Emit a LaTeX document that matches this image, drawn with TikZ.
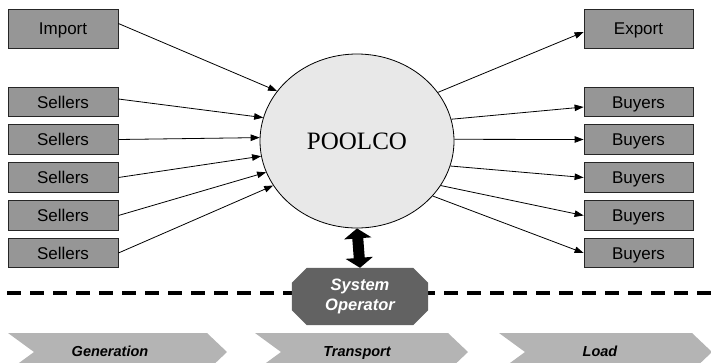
\documentclass[tikz,border=0pt]{standalone}
\usepackage{fontspec}
\setmainfont{Liberation Sans}
\newfontfamily\poolfont{Liberation Serif}
\usetikzlibrary{arrows.meta,shapes.geometric}

\definecolor{boxgray}{HTML}{969696}
\definecolor{poolgray}{HTML}{E8E8E8}
\definecolor{opgray}{HTML}{626262}
\definecolor{stagegray}{HTML}{B4B4B4}

\pgfdeclarelayer{background}
\pgfsetlayers{background,main}

\begin{document}
\begin{tikzpicture}[x=1pt,y=-1pt,
  party/.style={draw=black!85, line width=0.8pt, fill=boxgray, minimum width=110pt,
    minimum height=29.5pt, inner sep=0pt, text height=12.2pt, text depth=0pt,
    font=\fontsize{17}{19}\selectfont},
  tallparty/.style={party, minimum height=39pt},
  flow/.style={draw=black, line width=0.8pt, -{Triangle[length=9pt,width=6.5pt]}},
  stage/.style={fill=stagegray},
  stagetext/.style={inner sep=0pt, anchor=base, font=\bfseries\itshape\fontsize{14.5}{16}\selectfont},
  dividerline/.style={line width=4pt, dash pattern=on 14pt off 9pt},
  exchange/.style={line width=11pt,
    {Triangle[length=10pt,width=27pt]}-{Triangle[length=10pt,width=27pt]}}
]
\useasboundingbox (0,0) rectangle (711,362);
\clip (0,0) rectangle (711,362);

% market stages along the bottom edge
\fill[stage] (8,333) -- (207,333) -- (227,352) -- (207,371) -- (8,371) -- (34,352) -- cycle;
\fill[stage] (255,333) -- (448,333) -- (468,352) -- (448,371) -- (255,371) -- (281,352) -- cycle;
\fill[stage] (499,333) -- (692,333) -- (712,352) -- (692,371) -- (499,371) -- (525,352) -- cycle;
\node[stagetext] (gen) at (110,356) {Generation};
\node[stagetext] (tra) at (357,356) {Transport};
\node[stagetext] (loa) at (600,356) {Load};

% central pool
\node[ellipse, draw=black, line width=0.8pt, fill=poolgray, minimum width=194pt,
  minimum height=174pt, inner sep=0pt, font=\poolfont\fontsize{25}{28}\selectfont]
  (pool) at (357,141) {POOLCO};

% system operator: text node, octagon filled behind it
\node[minimum width=136pt, minimum height=57pt, inner sep=0pt,
  text=white, align=center, font=\bfseries\itshape\fontsize{16.5}{20}\selectfont]
  (so) at (360,296.5) {System\\Operator};

\begin{pgfonlayer}{background}
  % dashed divider behind the system operator
  \coordinate (dl) at (7,293);
  \coordinate (dr) at (711,293);
  \draw[dividerline] (dl) -- (dr);
  \fill[opgray] ([xshift=15pt]so.north west) -- ([xshift=-15pt]so.north east)
    -- ([yshift=-15pt]so.north east) -- ([yshift=15pt]so.south east)
    -- ([xshift=-15pt]so.south east) -- ([xshift=15pt]so.south west)
    -- ([yshift=15pt]so.south west) -- ([yshift=-15pt]so.north west) -- cycle;
\end{pgfonlayer}

\draw[exchange] (pool.south) -- (so.north);

% suppliers
\node[tallparty] (imp) at (63,28.5) {Import};
\node[party] (s1) at (63,102) {Sellers};
\node[party] (s2) at (63,139.5) {Sellers};
\node[party] (s3) at (63,177.5) {Sellers};
\node[party] (s4) at (63,215.5) {Sellers};
\node[party] (s5) at (63,253) {Sellers};

% consumers
\node[tallparty, minimum width=109pt] (exp) at (638.5,28.5) {Export};
\node[party, minimum width=109pt] (b1) at (638.5,102) {Buyers};
\node[party, minimum width=109pt] (b2) at (638.5,139.5) {Buyers};
\node[party, minimum width=109pt] (b3) at (638.5,177.5) {Buyers};
\node[party, minimum width=109pt] (b4) at (638.5,215.5) {Buyers};
\node[party, minimum width=109pt] (b5) at (638.5,253) {Buyers};

% flows into the pool
\draw[flow] ([yshift=5pt]imp.east) -- (pool.148.7);
\draw[flow] ([yshift=3pt]s1.east) -- (pool.166);
\draw[flow] (s2.east) -- (pool.178.3);
\draw[flow] (s3.east) -- (pool.189.7);
\draw[flow] (s4.east) -- (pool.199.6);
\draw[flow] (s5.east) -- (pool.208.2);

% flows out of the pool
\draw[flow] (pool.31.6) -- ([yshift=-3.5pt]exp.west);
\draw[flow] (pool.13.6) -- ([yshift=-5pt]b1.west);
\draw[flow] (pool.1.8) -- (b2.west);
\draw[flow] (pool.345.2) -- (b3.west);
\draw[flow] (pool.332.9) -- (b4.west);
\draw[flow] (pool.324.3) -- (b5.west);
\end{tikzpicture}
\end{document}
